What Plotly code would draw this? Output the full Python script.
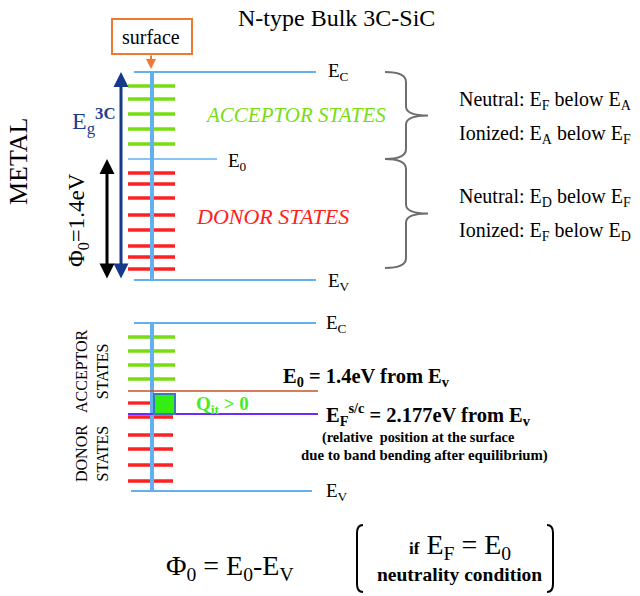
import plotly.graph_objects as go

# ---- data (diagram units: x / y on a 640 x 596 schematic axis, y downward) ----
top_levels = {"Ec": 72, "E0": 159, "Ev": 280}
top_acceptor = [86, 99, 114, 129, 144]
top_donor = [173, 184, 198, 215, 230, 246, 257, 269]

bot_levels = {"Ec": 323, "E0": 391, "EF": 414, "Ev": 491}
bot_acceptor = [337, 351, 365, 379]
bot_donor_short = [403]
bot_donor = [417, 435, 449, 465, 481]

surface_x = 152
level_x = (128, 175)
band_x = (134, 316)
bot_line_x = (128, 318)

FONT = "Liberation Serif"
BLUE = "#62b0f0"
GREEN = "#77dd11"
RED = "#ff2020"

fig = go.Figure()


def hlines(ys, x0, x1, color, width):
    xs, yy = [], []
    for y in ys:
        xs += [x0, x1, None]
        yy += [y, y, None]
    fig.add_trace(go.Scatter(x=xs, y=yy, mode="lines", hoverinfo="skip",
                             line=dict(color=color, width=width)))


# top panel
hlines([top_levels["Ec"], top_levels["Ev"]], band_x[0], band_x[1], BLUE, 2)
hlines([top_levels["E0"]], level_x[0], 217, BLUE, 1.5)
hlines(top_acceptor, level_x[0], level_x[1], GREEN, 3.3)
hlines(top_donor, level_x[0], level_x[1], RED, 3.3)
fig.add_trace(go.Scatter(x=[surface_x, surface_x], y=[top_levels["Ec"], top_levels["Ev"]],
                         mode="lines", hoverinfo="skip", line=dict(color=BLUE, width=4)))

# bottom panel
hlines([bot_levels["Ec"]], band_x[0], band_x[1], BLUE, 2)
hlines([bot_levels["Ev"]], 131, 312, BLUE, 2)
hlines(bot_acceptor, level_x[0], level_x[1], GREEN, 3.3)
hlines(bot_donor_short, level_x[0], surface_x, RED, 3.3)
hlines(bot_donor, level_x[0], 173, RED, 3.3)
fig.add_trace(go.Scatter(x=[surface_x, surface_x], y=[bot_levels["Ec"], bot_levels["Ev"]],
                         mode="lines", hoverinfo="skip", line=dict(color=BLUE, width=4)))
hlines([bot_levels["E0"]], bot_line_x[0], bot_line_x[1], "#c8502a", 1.5)
hlines([bot_levels["EF"]], bot_line_x[0], bot_line_x[1], "#6a2cff", 2)

# Q_it square
fig.add_shape(type="rect", x0=154, x1=175, y0=394, y1=bot_levels["EF"],
              line=dict(color="#3f78b8", width=2), fillcolor="#33ee11")

# surface box
fig.add_shape(type="rect", x0=112, x1=192, y0=19, y1=54,
              line=dict(color="#f07830", width=2), fillcolor="white")


def brace(y0, y1, xl=385, xm=406, xt=428):
    ym = (y0 + y1) / 2
    return (f"M {xl},{y0} Q {xm},{y0} {xm},{y0+10} L {xm},{ym-9} Q {xm},{ym} {xt},{ym} "
            f"Q {xm},{ym} {xm},{ym+9} L {xm},{y1-10} Q {xm},{y1} {xl},{y1}")


fig.add_shape(type="path", path=brace(top_levels["Ec"], top_levels["E0"]),
              line=dict(color="#6e6e6e", width=2))
fig.add_shape(type="path", path=brace(top_levels["E0"], 268),
              line=dict(color="#6e6e6e", width=2))

# parentheses
fig.add_shape(type="path", path="M 363,525 Q 357,525 357,533 L 357,584 Q 357,592 363,592",
              line=dict(color="black", width=2))
fig.add_shape(type="path", path="M 547,525 Q 553,525 553,533 L 553,584 Q 553,592 547,592",
              line=dict(color="black", width=2))

ann = []


def text(x, y, t, size, color="black", xanchor="center", angle=0, **kw):
    ann.append(dict(x=x, y=y, text=t, showarrow=False, xanchor=xanchor, yanchor="middle",
                    textangle=angle, font=dict(family=FONT, size=size, color=color), **kw))


def arrow(x, y_from, y_to, color, width, both=True):
    ann.append(dict(x=x, y=y_to, ax=x, ay=y_from, axref="x", ayref="y", xref="x", yref="y",
                    showarrow=True, arrowhead=2, arrowsize=1, arrowwidth=width,
                    arrowcolor=color, arrowside="end+start" if both else "end",
                    text="", standoff=0, startstandoff=0))


arrow(121, top_levels["Ev"], top_levels["Ec"], "#17398c", 3)
arrow(107, top_levels["Ev"], top_levels["E0"], "black", 3)
arrow(151, 54, 69, "#f07830", 2, both=False)

text(336, 18, "N-type Bulk 3C-SiC", 24)
text(151, 37, "surface", 20)
text(18, 162, "METAL", 26, angle=-90)
text(78, 220, "Φ<sub>0</sub>=1.4eV", 23, angle=-90)
text(70, 121, "E<sub>g</sub><sup><b>3C</b></sup>", 24, color="#1f3f90", xanchor="left")
text(326, 72, "E<sub>C</sub>", 19, xanchor="left")
text(226, 162, "E<sub>0</sub>", 19, xanchor="left")
text(326, 282, "E<sub>V</sub>", 19, xanchor="left")
text(295, 115, "<i>ACCEPTOR STATES</i>", 21, color=GREEN)
text(272, 216, "<i>DONOR STATES</i>", 22, color=RED)
text(457, 100, "Neutral: E<sub>F</sub> below E<sub>A</sub>", 20, xanchor="left")
text(457, 134, "Ionized: E<sub>A</sub> below E<sub>F</sub>", 20, xanchor="left")
text(457, 197, "Neutral: E<sub>D</sub> below E<sub>F</sub>", 20, xanchor="left")
text(457, 231, "Ionized: E<sub>F</sub> below E<sub>D</sub>", 20, xanchor="left")

text(324, 324, "E<sub>C</sub>", 19, xanchor="left")
text(324, 492, "E<sub>V</sub>", 19, xanchor="left")
text(92, 371, "ACCEPTOR<br>STATES", 16, angle=-90)
text(92, 454, "DONOR<br>STATES", 16, angle=-90)
text(194, 405, "<b>Q<sub>it</sub> > 0</b>", 19, color="#44ee22", xanchor="left")
text(281, 377, "<b>E<sub>0</sub> = 1.4eV from E<sub>v</sub></b>", 20.5, xanchor="left")
text(324, 414, "<b>E<sub>F</sub><sup>s/c</sup> = 2.177eV from E<sub>v</sub></b>", 20.5, xanchor="left")
text(418, 437, "<b>(relative  position at the surface</b>", 14.3)
text(424, 455, "<b>due to band bending after equilibrium)</b>", 14.8)

text(230, 567, "Φ<sub>0</sub> = E<sub>0</sub>-E<sub>V</sub>", 28)
text(460, 546, "<span style='font-size:17px'><b>if</b></span> E<sub>F</sub> = E<sub>0</sub>", 28)
text(459, 574, "<b>neutrality condition</b>", 19.5)

fig.update_layout(
    width=640, height=596, margin=dict(l=0, r=0, t=0, b=0),
    paper_bgcolor="white", plot_bgcolor="white", showlegend=False,
    hovermode=False, annotations=ann, font=dict(family=FONT),
    xaxis=dict(range=[0, 640], visible=False, fixedrange=True),
    yaxis=dict(range=[596, 0], visible=False, fixedrange=True),
)
fig.write_html("out.html", config={"displayModeBar": False},
               post_script="document.body.style.margin='0px';document.body.style.overflow='hidden';")
